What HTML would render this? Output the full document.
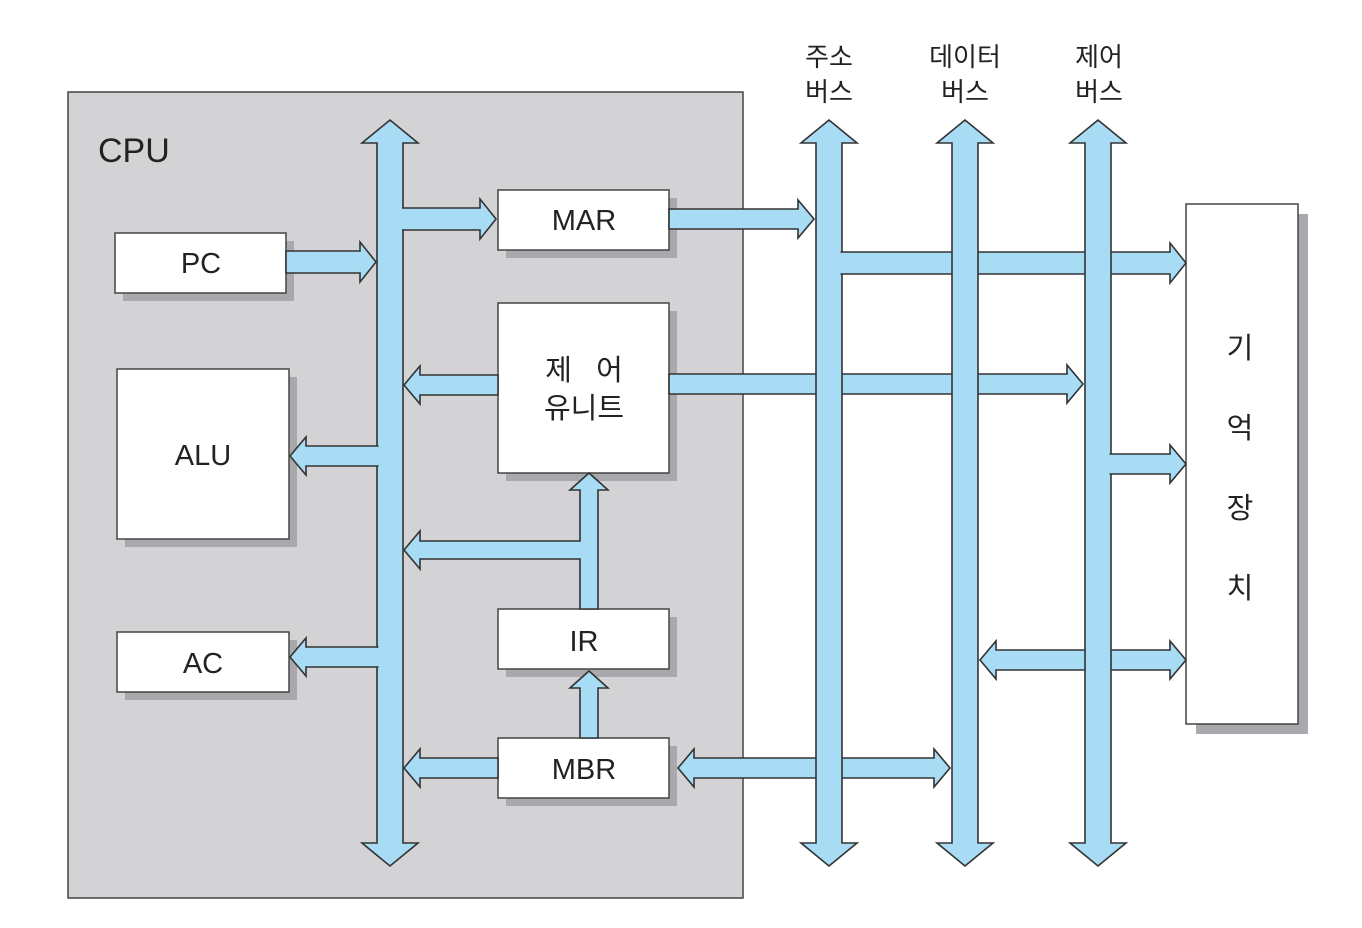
<!DOCTYPE html>
<html><head><meta charset="utf-8"><style>
html,body{margin:0;padding:0;background:#fff;}
svg{display:block;}
text{font-family:"Liberation Sans","Noto Sans CJK KR",sans-serif;fill:#222;}
</style></head><body>
<svg width="1362" height="928" viewBox="0 0 1362 928" xmlns="http://www.w3.org/2000/svg">
<rect width="1362" height="928" fill="#fff"/>
<!-- CPU -->
<rect x="68" y="92" width="675" height="806" fill="#d3d3d5" stroke="#444" stroke-width="1.5"/>
<text x="98" y="162" font-size="34" fill="#333">CPU</text>

<g fill="#a9a9ad">
<rect x="123" y="241" width="171" height="60"/>
<rect x="125" y="377" width="172" height="170"/>
<rect x="125" y="640" width="172" height="60"/>
<rect x="506" y="198" width="171" height="60"/>
<rect x="506" y="311" width="171" height="170"/>
<rect x="506" y="617" width="171" height="60"/>
<rect x="506" y="746" width="171" height="60"/>
<rect x="1196" y="214" width="112" height="520"/>
</g>
<g fill="#fff" stroke="#444" stroke-width="1.5">
<rect x="115" y="233" width="171" height="60"/>
<rect x="117" y="369" width="172" height="170"/>
<rect x="117" y="632" width="172" height="60"/>
<rect x="498" y="190" width="171" height="60"/>
<rect x="498" y="303" width="171" height="170"/>
<rect x="498" y="609" width="171" height="60"/>
<rect x="498" y="738" width="171" height="60"/>
<rect x="1186" y="204" width="112" height="520"/>
</g>
<g font-size="29" text-anchor="middle">
<text x="201" y="273">PC</text>
<text x="203" y="465">ALU</text>
<text x="203" y="673">AC</text>
<text x="584" y="230">MAR</text>
<text x="584" y="380">제&#160;&#160;&#160;어</text>
<text x="584" y="418">유니트</text>
<text x="584" y="651">IR</text>
<text x="584" y="779">MBR</text>
<text x="1240" y="358">기</text>
<text x="1240" y="438">억</text>
<text x="1240" y="518">장</text>
<text x="1240" y="598">치</text>
</g>
<g font-size="26" text-anchor="middle" fill="#333">
<text x="829" y="66">주소</text><text x="829" y="101">버스</text>
<text x="965" y="66">데이터</text><text x="965" y="101">버스</text>
<text x="1099" y="66">제어</text><text x="1099" y="101">버스</text>
</g>

<g fill="#a8dcf5" stroke="#333" stroke-width="1.6" stroke-linejoin="miter">
<!-- crossing arrows (under buses) -->
<polygon points="669,374 1067,374 1067,365 1083,384 1067,403 1067,394 669,394"/>
<polygon points="694,758 934,758 934,749 950,768 934,787 934,778 694,778 694,787 678,768 694,749"/>
<polygon points="996,650 1170,650 1170,641 1186,660 1170,679 1170,670 996,670 996,679 980,660 996,641"/>
<polygon points="669,209 798,209 798,200 814,219 798,238 798,229 669,229"/>
<!-- PC -> bus -->
<polygon points="286,251 360,251 360,242 376,262 360,282 360,273 286,273"/>
<!-- CU -> bus -->
<polygon points="498,375 420,375 420,366 404,385 420,404 420,395 498,395"/>
<!-- MBR -> bus -->
<polygon points="498,758 420,758 420,749 404,768 420,787 420,778 498,778"/>
<!-- IR path -->
<polygon points="580,609 580,559 420,559 420,569 404,550 420,531 420,541 580,541 580,490 570,490 589,473 608,490 598,490 598,609"/>
<polygon points="580,738 580,688 570,688 589,671 608,688 598,688 598,738"/>
<rect x="581.5" y="542.5" width="15" height="15" fill="#a8dcf5" stroke="none"/>
<!-- internal bus -->
<polygon points="377,143 362,143 390,120 418,143 403,143 403,843 418,843 390,866 362,843 377,843"/>
<polygon points="390,208 480,208 480,199 496,219 480,239 480,230 390,230"/>
<polygon points="390,446 306,446 306,437 290,456 306,475 306,466 390,466"/>
<polygon points="390,647 306,647 306,638 290,657 306,676 306,667 390,667"/>
<g fill="#a8dcf5" stroke="none">
<rect x="378.5" y="143" width="23.5" height="700"/>
<rect x="400" y="209.5" width="6" height="19"/>
<rect x="374" y="447.5" width="6" height="17"/>
<rect x="374" y="648.5" width="6" height="17"/>
</g>
<!-- address bus -->
<polygon points="816,143 801,143 829,120 857,143 842,143 842,843 857,843 829,866 801,843 816,843"/>
<polygon points="829,252 1170,252 1170,243 1186,263 1170,283 1170,274 829,274"/>
<g fill="#a8dcf5" stroke="none">
<rect x="817.5" y="143" width="23" height="700"/>
<rect x="839" y="253.5" width="6" height="19"/>
</g>
<!-- data bus -->
<polygon points="952,143 937,143 965,120 993,143 978,143 978,843 993,843 965,866 937,843 952,843"/>
<!-- control bus -->
<polygon points="1085,143 1070,143 1098,120 1126,143 1111,143 1111,843 1126,843 1098,866 1070,843 1085,843"/>
<polygon points="1098,454 1170,454 1170,445 1186,464 1170,483 1170,474 1098,474"/>
<g fill="#a8dcf5" stroke="none">
<rect x="1086.5" y="143" width="23" height="700"/>
<rect x="1108" y="455.5" width="6" height="17"/>
</g>
</g>
</svg>
</body></html>
